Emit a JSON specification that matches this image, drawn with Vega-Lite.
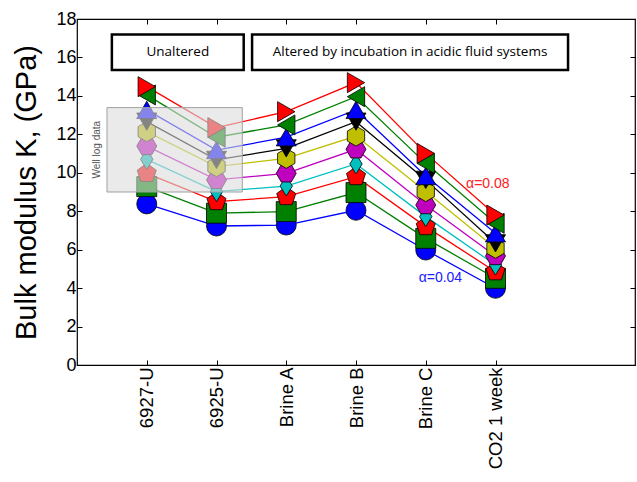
{
  "$schema": "https://vega.github.io/schema/vega-lite/v6.json",
  "width": 558,
  "height": 346,
  "autosize": "none",
  "padding": {"left": 77, "top": 19, "right": 2, "bottom": 117},
  "config": {
    "view": {"stroke": "black", "strokeWidth": 1.2},
    "font": "Liberation Sans",
    "axis": {"grid": false, "domain": false, "tickColor": "black", "labelColor": "black", "titleColor": "black", "tickSize": -5, "tickWidth": 1}
  },
  "resolve": {"axis": {"x": "independent", "y": "independent"}},
  "datasets": {
    "k": [
      {"series": "s01", "stage": "6927-U", "idx": 1, "K": 8.38},
      {"series": "s01", "stage": "6925-U", "idx": 2, "K": 7.23},
      {"series": "s01", "stage": "Brine A", "idx": 3, "K": 7.28},
      {"series": "s01", "stage": "Brine B", "idx": 4, "K": 8.05},
      {"series": "s01", "stage": "Brine C", "idx": 5, "K": 5.98},
      {"series": "s01", "stage": "CO2 1 week", "idx": 6, "K": 3.99},
      {"series": "s02", "stage": "6927-U", "idx": 1, "K": 9.28},
      {"series": "s02", "stage": "6925-U", "idx": 2, "K": 7.9},
      {"series": "s02", "stage": "Brine A", "idx": 3, "K": 7.98},
      {"series": "s02", "stage": "Brine B", "idx": 4, "K": 8.97},
      {"series": "s02", "stage": "Brine C", "idx": 5, "K": 6.59},
      {"series": "s02", "stage": "CO2 1 week", "idx": 6, "K": 4.51},
      {"series": "s03", "stage": "6927-U", "idx": 1, "K": 9.97},
      {"series": "s03", "stage": "6925-U", "idx": 2, "K": 8.5},
      {"series": "s03", "stage": "Brine A", "idx": 3, "K": 8.76},
      {"series": "s03", "stage": "Brine B", "idx": 4, "K": 9.8},
      {"series": "s03", "stage": "Brine C", "idx": 5, "K": 7.2},
      {"series": "s03", "stage": "CO2 1 week", "idx": 6, "K": 4.85},
      {"series": "s04", "stage": "6927-U", "idx": 1, "K": 10.7},
      {"series": "s04", "stage": "6925-U", "idx": 2, "K": 9.02},
      {"series": "s04", "stage": "Brine A", "idx": 3, "K": 9.31},
      {"series": "s04", "stage": "Brine B", "idx": 4, "K": 10.46},
      {"series": "s04", "stage": "Brine C", "idx": 5, "K": 7.72},
      {"series": "s04", "stage": "CO2 1 week", "idx": 6, "K": 5.2},
      {"series": "s05", "stage": "6927-U", "idx": 1, "K": 11.39},
      {"series": "s05", "stage": "6925-U", "idx": 2, "K": 9.63},
      {"series": "s05", "stage": "Brine A", "idx": 3, "K": 9.97},
      {"series": "s05", "stage": "Brine B", "idx": 4, "K": 11.22},
      {"series": "s05", "stage": "Brine C", "idx": 5, "K": 8.32},
      {"series": "s05", "stage": "CO2 1 week", "idx": 6, "K": 5.67},
      {"series": "s06", "stage": "6927-U", "idx": 1, "K": 12.14},
      {"series": "s06", "stage": "6925-U", "idx": 2, "K": 10.32},
      {"series": "s06", "stage": "Brine A", "idx": 3, "K": 10.75},
      {"series": "s06", "stage": "Brine B", "idx": 4, "K": 11.91},
      {"series": "s06", "stage": "Brine C", "idx": 5, "K": 9.02},
      {"series": "s06", "stage": "CO2 1 week", "idx": 6, "K": 6.07},
      {"series": "s07", "stage": "6927-U", "idx": 1, "K": 12.66},
      {"series": "s07", "stage": "6925-U", "idx": 2, "K": 10.67},
      {"series": "s07", "stage": "Brine A", "idx": 3, "K": 11.27},
      {"series": "s07", "stage": "Brine B", "idx": 4, "K": 12.66},
      {"series": "s07", "stage": "Brine C", "idx": 5, "K": 9.63},
      {"series": "s07", "stage": "CO2 1 week", "idx": 6, "K": 6.33},
      {"series": "s08", "stage": "6927-U", "idx": 1, "K": 13.27},
      {"series": "s08", "stage": "6925-U", "idx": 2, "K": 11.18},
      {"series": "s08", "stage": "Brine A", "idx": 3, "K": 11.85},
      {"series": "s08", "stage": "Brine B", "idx": 4, "K": 13.27},
      {"series": "s08", "stage": "Brine C", "idx": 5, "K": 9.83},
      {"series": "s08", "stage": "CO2 1 week", "idx": 6, "K": 6.85},
      {"series": "s09", "stage": "6927-U", "idx": 1, "K": 14.05},
      {"series": "s09", "stage": "6925-U", "idx": 2, "K": 11.85},
      {"series": "s09", "stage": "Brine A", "idx": 3, "K": 12.49},
      {"series": "s09", "stage": "Brine B", "idx": 4, "K": 13.96},
      {"series": "s09", "stage": "Brine C", "idx": 5, "K": 10.49},
      {"series": "s09", "stage": "CO2 1 week", "idx": 6, "K": 7.37},
      {"series": "s10", "stage": "6927-U", "idx": 1, "K": 14.48},
      {"series": "s10", "stage": "6925-U", "idx": 2, "K": 12.35},
      {"series": "s10", "stage": "Brine A", "idx": 3, "K": 13.18},
      {"series": "s10", "stage": "Brine B", "idx": 4, "K": 14.69},
      {"series": "s10", "stage": "Brine C", "idx": 5, "K": 11.01},
      {"series": "s10", "stage": "CO2 1 week", "idx": 6, "K": 7.8}
    ]
  },
  "layer": [
    {
      "data": {"values": [
        {"label": "Unaltered", "x0": 0.5, "x1": 2.39, "y0": 15.35, "y1": 17.2},
        {"label": "Altered by incubation in acidic fluid systems", "x0": 2.51, "x1": 7.04, "y0": 15.35, "y1": 17.2}
      ]},
      "mark": {"type": "rect", "fill": "white", "stroke": "black", "strokeWidth": 2.5},
      "encoding": {
        "x": {"field": "x0", "type": "quantitative", "scale": {"domain": [0, 8], "nice": false, "zero": false}, "axis": null},
        "x2": {"field": "x1"},
        "y": {"field": "y0", "type": "quantitative", "scale": {"domain": [0, 18], "nice": false, "zero": false}, "axis": null},
        "y2": {"field": "y1"}
      }
    },
    {
      "data": {"values": [
        {"label": "Unaltered", "xc": 1.445, "yc": 16.27},
        {"label": "Altered by incubation in acidic fluid systems", "xc": 4.775, "yc": 16.27}
      ]},
      "mark": {"type": "text", "font": "Open Sans", "fontSize": 13.5, "color": "black", "align": "center", "baseline": "middle"},
      "encoding": {
        "x": {"field": "xc", "type": "quantitative", "scale": {"domain": [0, 8], "nice": false, "zero": false}, "axis": null},
        "y": {"field": "yc", "type": "quantitative", "scale": {"domain": [0, 18], "nice": false, "zero": false}, "axis": null},
        "text": {"field": "label"}
      }
    },
    {
      "data": {"name": "k"},
      "mark": {"type": "line", "strokeWidth": 1.3},
      "encoding": {
        "x": {"field": "idx", "type": "quantitative", "scale": {"domain": [0, 8], "nice": false, "zero": false},
          "axis": {"orient": "bottom", "title": null, "values": [1, 2, 3, 4, 5, 6], "labelAngle": -90, "labelAlign": "right", "labelBaseline": "middle", "labelFontSize": 18.5, "labelPadding": 7,
            "labelExpr": "['','6927-U','6925-U','Brine A','Brine B','Brine C','CO2 1 week'][datum.value]"}},
        "y": {"field": "K", "type": "quantitative", "scale": {"domain": [0, 18], "nice": false, "zero": false},
          "axis": {"orient": "left", "title": "Bulk modulus K, (GPa)", "titleFontSize": 29, "titleFontWeight": "normal", "titlePadding": 14, "values": [0, 2, 4, 6, 8, 10, 12, 14, 16, 18], "labelFontSize": 18, "labelPadding": 6}},
        "color": {"field": "series", "type": "nominal", "legend": null,
          "scale": {"domain": ["s01","s02","s03","s04","s05","s06","s07","s08","s09","s10"],
                    "range": ["#0000ff","#008000","#ff0000","#00bfbf","#bf00bf","#bfbf00","#000000","#0000ff","#008000","#ff0000"]}},
        "detail": {"field": "series"},
        "order": {"field": "idx"}
      }
    },
    {
      "data": {"name": "k"},
      "mark": {"type": "point", "filled": true, "opacity": 1, "size": 400, "stroke": "black", "strokeWidth": 0.8},
      "encoding": {
        "x": {"field": "idx", "type": "quantitative", "scale": {"domain": [0, 8], "nice": false, "zero": false},
          "axis": {"orient": "top", "title": null, "values": [1, 2, 3, 4, 5, 6], "labels": false}},
        "y": {"field": "K", "type": "quantitative", "scale": {"domain": [0, 18], "nice": false, "zero": false},
          "axis": {"orient": "right", "title": null, "values": [0, 2, 4, 6, 8, 10, 12, 14, 16, 18], "labels": false}},
        "color": {"field": "series", "type": "nominal", "legend": null},
        "shape": {"field": "series", "type": "nominal", "legend": null,
          "scale": {"domain": ["s01","s02","s03","s04","s05","s06","s07","s08","s09","s10"],
                    "range": ["circle", "square",
                              "M0,-1L0.951,-0.309L0.588,0.809L-0.588,0.809L-0.951,-0.309Z",
                              "M0,-1L0.62,0L0,1L-0.62,0Z",
                              "M-1,0L-0.5,-0.866L0.5,-0.866L1,0L0.5,0.866L-0.5,0.866Z",
                              "M0,-1L0.866,-0.5L0.866,0.5L0,1L-0.866,0.5L-0.866,-0.5Z",
                              "triangle-down", "triangle-up", "triangle-left", "triangle-right"]}},
        "order": {"field": "series"}
      }
    },
    {
      "data": {"values": [{"x0": 0.43, "x1": 2.37, "y0": 9.0, "y1": 13.39}]},
      "mark": {"type": "rect", "fill": "#dcdcdc", "fillOpacity": 0.6, "stroke": "#a0a0a0", "strokeWidth": 1},
      "encoding": {
        "x": {"field": "x0", "type": "quantitative", "scale": {"domain": [0, 8], "nice": false, "zero": false}, "axis": null},
        "x2": {"field": "x1"},
        "y": {"field": "y0", "type": "quantitative", "scale": {"domain": [0, 18], "nice": false, "zero": false}, "axis": null},
        "y2": {"field": "y1"}
      }
    },
    {
      "data": {"values": [{"label": "Well log data", "xc": 0.28, "yc": 11.2}]},
      "mark": {"type": "text", "font": "Liberation Sans", "fontSize": 10, "color": "#555555", "angle": 270, "align": "center", "baseline": "middle"},
      "encoding": {
        "x": {"field": "xc", "type": "quantitative", "scale": {"domain": [0, 8], "nice": false, "zero": false}, "axis": null},
        "y": {"field": "yc", "type": "quantitative", "scale": {"domain": [0, 18], "nice": false, "zero": false}, "axis": null},
        "text": {"field": "label"}
      }
    },
    {
      "data": {"values": [{"label": "α=0.08", "xc": 5.89, "yc": 9.42}]},
      "mark": {"type": "text", "font": "Liberation Sans", "fontSize": 14, "align": "center", "baseline": "middle", "color": "#ff2020"},
      "encoding": {
        "x": {"field": "xc", "type": "quantitative", "scale": {"domain": [0, 8], "nice": false, "zero": false}, "axis": null},
        "y": {"field": "yc", "type": "quantitative", "scale": {"domain": [0, 18], "nice": false, "zero": false}, "axis": null},
        "text": {"field": "label"}
      }
    },
    {
      "data": {"values": [{"label": "α=0.04", "xc": 5.21, "yc": 4.53}]},
      "mark": {"type": "text", "font": "Liberation Sans", "fontSize": 14, "align": "center", "baseline": "middle", "color": "#2020ff"},
      "encoding": {
        "x": {"field": "xc", "type": "quantitative", "scale": {"domain": [0, 8], "nice": false, "zero": false}, "axis": null},
        "y": {"field": "yc", "type": "quantitative", "scale": {"domain": [0, 18], "nice": false, "zero": false}, "axis": null},
        "text": {"field": "label"}
      }
    }
  ]
}
